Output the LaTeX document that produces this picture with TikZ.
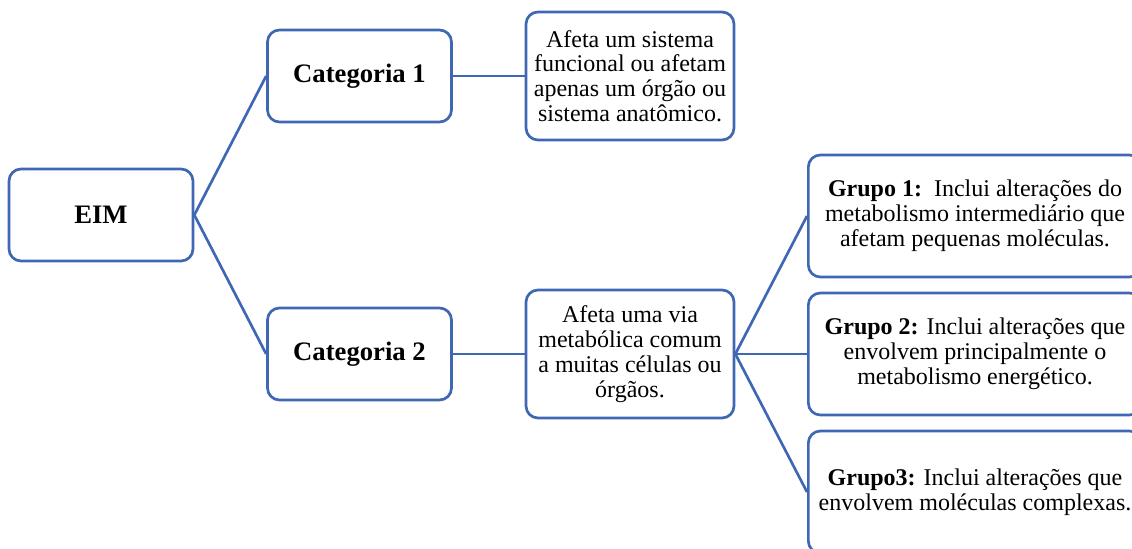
\documentclass[tikz,border=0pt]{standalone}
\usepackage{fontspec}
\setmainfont{Liberation Serif}
\definecolor{boxblue}{RGB}{63,103,180}
\begin{document}
\begin{tikzpicture}[x=0.75pt,y=-0.75pt]
    \tikzset{Box/.style={%
        shape=rectangle,%
        draw=boxblue,%
        line width=2pt,%
        rounded corners=9pt,%
        align=center,%
        inner sep=2pt,%
        font=\fontsize{18}{18.6}\selectfont,%
    }}
    \tikzset{Head/.style={Box, minimum width=138pt, minimum height=69pt,%
        font=\fontsize{20}{24}\selectfont\bfseries}}
    \tikzset{Note/.style={Box, minimum width=156pt, minimum height=96pt}}
    \tikzset{Group/.style={Box, minimum width=250pt, minimum height=91.5pt}}
    \tikzset{Link/.style={draw=boxblue, line width=2pt}}

    \useasboundingbox (0,0) rectangle (1132,549);

    \node[Head] (eim) at (101,215) {EIM};
    \node[Head] (cat1) at (359.5,76) {Categoria 1};
    \node[Head] (cat2) at (359.5,354) {Categoria 2};

    \node[Note] (n1) at (630,76) {Afeta um sistema\\funcional ou afetam\\apenas um órgão ou\\sistema anatômico.};
    \node[Note] (n2) at (630,354) {Afeta uma via\\metabólica comum\\a muitas células ou\\órgãos.};

    \node[Group] (g1) at (975,216) {\textbf{Grupo 1:}\ \ Inclui alterações do\\metabolismo intermediário que\\afetam pequenas moléculas.};
    \node[Group] (g2) at (975,354) {\textbf{Grupo 2:} Inclui alterações que\\envolvem principalmente o\\metabolismo energético.};
    \node[Group] (g3) at (975,492) {\textbf{Grupo3:} Inclui alterações que\\envolvem moléculas complexas.};

    \path[Link] (eim.east) -- (cat1.west);
    \path[Link] (eim.east) -- (cat2.west);
    \path[Link] (cat1.east) -- (n1.west);
    \path[Link] (cat2.east) -- (n2.west);
    \path[Link] (n2.east) -- (g1.west);
    \path[Link] (n2.east) -- (g2.west);
    \path[Link] (n2.east) -- (g3.west);
\end{tikzpicture}
\end{document}
